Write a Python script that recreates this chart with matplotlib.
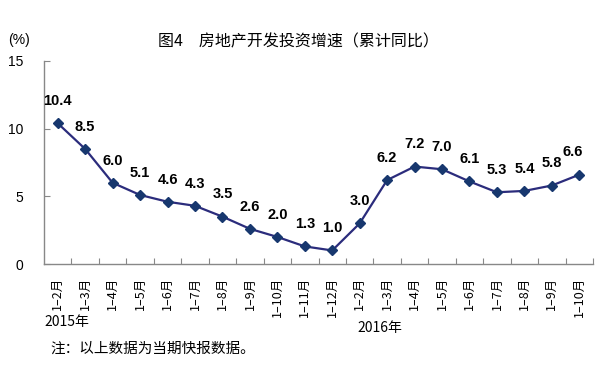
import matplotlib.pyplot as plt

# 数据
months = ["1–2月", "1–3月", "1–4月", "1–5月", "1–6月", "1–7月", "1–8月", "1–9月", "1–10月",
          "1–11月", "1–12月",
          "1–2月", "1–3月", "1–4月", "1–5月", "1–6月", "1–7月", "1–8月", "1–9月", "1–10月"]
growth = [10.4, 8.5, 6.0, 5.1, 4.6, 4.3, 3.5, 2.6, 2.0, 1.3, 1.0,
          3.0, 6.2, 7.2, 7.0, 6.1, 5.3, 5.4, 5.8, 6.6]
yticks = [0, 5, 10, 15]

cjk = ["Noto Sans CJK SC", "DejaVu Sans"]
num = ["Liberation Sans", "DejaVu Sans"]

W, H = 596, 365
fig = plt.figure(figsize=(W / 100, H / 100), dpi=100)
ax = fig.add_axes([44 / W, 1 - 264 / H, 549 / W, 203 / H])

x = list(range(len(growth)))
ax.plot(x, growth, color="#2B2C7C", linewidth=1.6, marker="D", markersize=5.5,
        markerfacecolor="#17376E", markeredgecolor="#17376E", zorder=3)

# 数据标签
for i, v in enumerate(growth):
    dx = -5 if i == len(growth) - 1 else 0
    ax.annotate(f"{v:.1f}", (i, v), xytext=(dx, 16), textcoords="offset points",
                ha="center", va="center", fontsize=10.5, fontweight="bold",
                family=num, color="black")

ax.set_xlim(-0.5, -0.5 + 549 / 27.8)
ax.set_ylim(0, 15)
ax.set_yticks(yticks)
ax.set_yticklabels([str(t) for t in yticks], family=num, fontsize=10)
ax.set_xticks([i + 0.5 for i in x])
ax.set_xticklabels([])
ax.tick_params(axis="y", direction="in", length=4, pad=15, color="#888888")
ax.tick_params(axis="x", direction="in", length=4, color="#888888")

for i, m in enumerate(months):
    ax.annotate(m, (i, 0), xytext=(0, -9.5), textcoords="offset points",
                rotation=90, ha="center", va="top", fontsize=9, family=cjk)

for s in ["top", "right"]:
    ax.spines[s].set_visible(False)
for s in ["left", "bottom"]:
    ax.spines[s].set_color("#888888")
    ax.spines[s].set_linewidth(1)

# 文字
fig.text(298 / W, 1 - 42 / H, "图4　房地产开发投资增速（累计同比）", ha="center", va="center",
         fontsize=11.5, family=cjk)
fig.text(8 / W, 1 - 40 / H, "(%)", ha="left", va="center", fontsize=10, family=num)
fig.text(44 / W, 1 - 322 / H, "2015年", ha="left", va="center", fontsize=10, family=cjk)
fig.text(357 / W, 1 - 328 / H, "2016年", ha="left", va="center", fontsize=10, family=cjk)
fig.text(50 / W, 1 - 349 / H, "注：以上数据为当期快报数据。", ha="left", va="center",
         fontsize=10.5, family=cjk)

fig.savefig("out.png", dpi=100)
